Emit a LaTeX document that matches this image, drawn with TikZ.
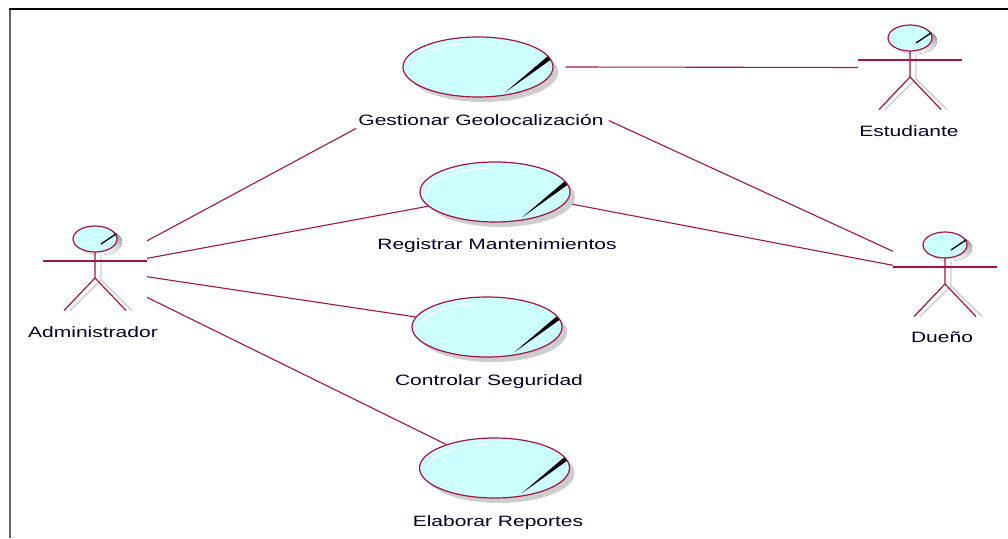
\documentclass[tikz,border=0pt]{standalone}
\usepackage{fontspec}
\setmainfont{Liberation Sans}[FakeStretch=1.4]
\usepackage{tikz}
\usetikzlibrary{shapes.geometric,shadows,calc}

\definecolor{rosered}{RGB}{160,20,70}
\definecolor{ucfill}{RGB}{204,255,255}
\definecolor{shade}{RGB}{205,205,205}

% stick figure drawn around an actor node
\newcommand{\stickman}[1]{%
  \begin{scope}[shift={(#1.center)}]
    \draw[actorshade] (6,14) -- (6,-11.5) -- (-25,-42) (6,-11.5) -- (37,-42);
    \fill[shade] (5,26.5) ellipse [x radius=22, y radius=13];
    \draw[umlline] (0,16.5) -- (0,-9.5) -- (-31,-42) (0,-9.5) -- (31,-42);
    \draw[umlline] (-52,7.5) -- (52,7.5);
    \draw[umlline, fill=ucfill] (0,29.5) ellipse [x radius=22, y radius=13];
    \draw[line width=1.3pt] (6,24.5) -- (21,34.5);
  \end{scope}}

\begin{document}
\begin{tikzpicture}[x=1pt, y=1pt]
\tikzstyle{umlline} = [draw=rosered, line width=1.2pt]
\tikzstyle{actorshade} = [draw=shade, line width=1.4pt]
\tikzstyle{assoc} = [draw=rosered, line width=1.1pt]
\tikzstyle{actor} = [rectangle, minimum width=104pt, minimum height=85pt, inner sep=0pt, outer sep=0pt]
\tikzstyle{lbl} = [inner sep=2pt, anchor=base, font=\fontsize{15}{18}\selectfont, text=black!85!blue]
\tikzstyle{usecase} = [ellipse, draw=rosered, line width=1.2pt, fill=ucfill,
  minimum width=150pt, minimum height=60pt, inner sep=0pt,
  drop shadow={shadow xshift=5pt, shadow yshift=-5pt, fill=shade, opacity=1},
  path picture={
    \coordinate (c) at (path picture bounding box.center);
    \draw[white, line width=0.9pt] ($(c)+(178:67pt and 24pt)$) arc[start angle=178, end angle=93, x radius=67pt, y radius=24pt];
    \fill[black] ($(c)+(27pt,-25.5pt)$) -- ($(c)+(70pt,11pt)$) -- ($(c)+(73pt,7.5pt)$) -- cycle;
  }]

\useasboundingbox (0,0) rectangle (1008,538);

% frame
\draw[black!60, line width=2pt] (9.5,0) -- (9.5,529);
\draw[black, line width=1.3pt] (8.5,529) -- (1008,529);

% use cases
\node [usecase] (uc1) at (478,471) {};
\node [lbl] (gestLbl) at (481,412) {Gestionar Geolocalización};
\node [usecase] (uc2) at (495,346) {};
\node [lbl] (regLbl) at (497,288.5) {Registrar Mantenimientos};
\node [usecase] (uc3) at (487,211) {};
\node [lbl] (ctrlLbl) at (489,152.5) {Controlar Seguridad};
\node [usecase] (uc4) at (494.5,70) {};
\node [lbl] (repLbl) at (498,11.5) {Elaborar Reportes};

% actors
\node [actor] (admin) at (95,269.5) {};
\stickman{admin}
\node [lbl] (adminLbl) at (93,200.5) {Administrador};
\node [actor] (student) at (910,470.5) {};
\stickman{student}
\node [lbl] (studentLbl) at (909,401.5) {Estudiante};
\node [actor] (owner) at (945,263.5) {};
\stickman{owner}
\node [lbl] (ownerLbl) at (942,195.5) {Dueño};

% associations
\path [assoc] (admin.28) -- (gestLbl.south west);
\path [assoc] (admin.11) -- (uc2.192);
\path [assoc] (admin.-9) -- (uc3.172);
\path [assoc] (admin.-29) -- (uc4.154);
\path [assoc] ([xshift=12pt]uc1.east) -- (student.west);
\path [assoc] ([xshift=3pt]gestLbl.east) -- (owner.156);
\path [assoc] ([xshift=8pt]uc2.-10) -- (owner.170);
\end{tikzpicture}
\end{document}
